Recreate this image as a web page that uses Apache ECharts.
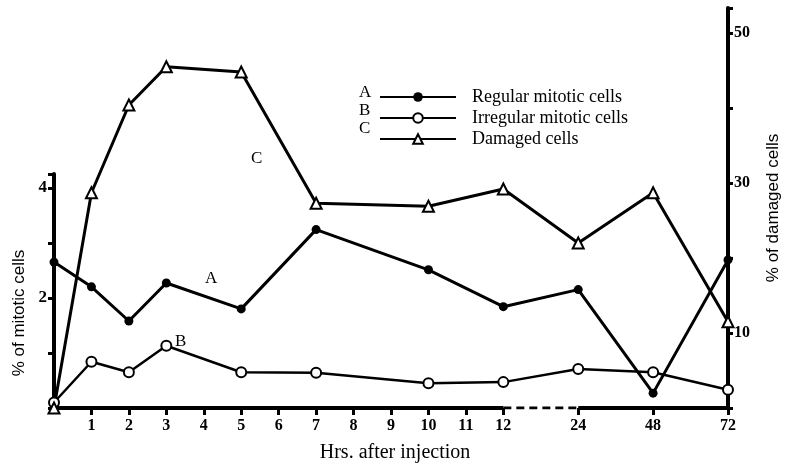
<!DOCTYPE html>
<html>
<head>
<meta charset="utf-8">
<script src="https://cdn.jsdelivr.net/npm/echarts@6/dist/echarts.min.js"></script>
<style>
  html, body { margin: 0; padding: 0; background: #fff; }
  #chart { width: 786px; height: 464px; }
</style>
</head>
<body>
<div id="chart"></div>
<script>
// hours after injection and where each sits on the broken x axis (12 -> 24 is squeezed)
const hours = [0, 1, 2, 3, 5, 7, 10, 12, 24, 48, 72];
const hourPos = [0, 1, 2, 3, 5, 7, 10, 12, 14, 16, 18];

// A: regular mitotic cells (%), B: irregular mitotic cells (%), C: damaged cells (%)
const regular = [2.65, 2.2, 1.58, 2.27, 1.8, 3.24, 2.51, 1.84, 2.15, 0.27, 2.69];
const irregular = [0.1, 0.84, 0.65, 1.13, 0.65, 0.64, 0.45, 0.47, 0.71, 0.65, 0.33];
const damaged = [0, 28.7, 40.4, 45.5, 44.8, 27.3, 26.9, 29.2, 22, 28.7, 11.5];

// x tick marks and their labels
const tickPos = [1, 2, 3, 4, 5, 6, 7, 8, 9, 10, 11, 12, 14, 16, 18];
const tickLabels = ['1', '2', '3', '4', '5', '6', '7', '8', '9', '10', '11', '12', '24', '48', '72'];

// baseline pieces: solid, dashed across the break, solid
const baseSolid1 = [0, 12];
const baseDash = [12, 14];
const baseSolid2 = [14, 18];

const serif = '"Liberation Serif", "DejaVu Serif", serif';
const sans = '"Liberation Sans", "DejaVu Sans", sans-serif';
const pair = (xs, ys) => xs.map((x, i) => [x, ys[i]]);

const chart = echarts.init(document.getElementById('chart'));

const xCommon = { type: 'value', min: 0, max: 18, splitLine: { show: false } };

chart.setOption({
  animation: false,
  backgroundColor: '#fff',
  grid: [
    { left: 54, right: 58, top: 174, bottom: 56, outerBoundsMode: 'none', containLabel: false },
    { left: 54, right: 58, top: 8, bottom: 56, outerBoundsMode: 'none', containLabel: false }
  ],
  xAxis: [
    Object.assign({}, xCommon, {
      gridIndex: 0,
      axisLine: { show: false },
      axisTick: { show: true, customValues: tickPos, length: 7, lineStyle: { color: '#000', width: 3 } },
      axisLabel: {
        customValues: tickPos,
        formatter: v => tickLabels[tickPos.indexOf(v)] || '',
        color: '#000', fontFamily: serif, fontWeight: 'bold', fontSize: 16, margin: 10
      },
      name: 'Hrs. after injection',
      nameLocation: 'middle',
      nameGap: 35,
      nameTextStyle: { color: '#000', fontFamily: serif, fontSize: 20, padding: [0, 0, 0, 8] }
    }),
    Object.assign({}, xCommon, {
      gridIndex: 1,
      show: false
    })
  ],
  yAxis: [
    {
      type: 'value', gridIndex: 0, min: 0, max: 4.25, interval: 1,
      splitLine: { show: false },
      axisLine: { show: true, lineStyle: { color: '#000', width: 4 } },
      axisTick: { show: true, length: 6, lineStyle: { color: '#000', width: 3 } },
      axisLabel: {
        formatter: v => (v === 2 || v === 4) ? String(v) : '',
        color: '#000', fontFamily: serif, fontWeight: 'bold', fontSize: 17, margin: 7
      },
      name: '% of mitotic cells',
      nameLocation: 'middle',
      nameRotate: 90,
      nameGap: 26,
      nameTextStyle: { color: '#000', fontFamily: sans, fontSize: 17, padding: [0, 44, 0, 0] }
    },
    {
      type: 'value', gridIndex: 1, position: 'right', min: 0, max: 53.33, interval: 10,
      splitLine: { show: false },
      axisLine: { show: true, onZero: false, lineStyle: { color: '#000', width: 4 } },
      axisTick: { show: true, length: 5, lineStyle: { color: '#000', width: 3 } },
      axisLabel: {
        formatter: v => (v === 10 || v === 30 || v === 50) ? String(v) : '',
        color: '#000', fontFamily: serif, fontWeight: 'bold', fontSize: 16, margin: 6
      },
      name: '% of damaged cells',
      nameLocation: 'middle',
      nameRotate: 90,
      nameGap: 37,
      nameTextStyle: { color: '#000', fontFamily: sans, fontSize: 17 }
    }
  ],
  legend: {
    data: ['Regular mitotic cells', 'Irregular mitotic cells', 'Damaged cells'],
    orient: 'vertical',
    left: 374,
    top: 83,
    itemWidth: 76,
    itemHeight: 12,
    itemGap: 3,
    selectedMode: false,
    textStyle: { color: '#000', fontFamily: serif, fontSize: 18, lineHeight: 16, padding: [0, 0, 0, 11] }
  },
  graphic: [
    { type: 'text', left: 359, top: 84, style: { text: 'A', font: '17px ' + serif, fill: '#000' } },
    { type: 'text', left: 359, top: 102, style: { text: 'B', font: '17px ' + serif, fill: '#000' } },
    { type: 'text', left: 359, top: 120, style: { text: 'C', font: '17px ' + serif, fill: '#000' } },
    { type: 'text', left: 205, top: 270, style: { text: 'A', font: '17px ' + serif, fill: '#000' } },
    { type: 'text', left: 175, top: 333, style: { text: 'B', font: '17px ' + serif, fill: '#000' } },
    { type: 'text', left: 251, top: 150, style: { text: 'C', font: '17px ' + serif, fill: '#000' } }
  ],
  series: [
    {
      name: 'Regular mitotic cells', type: 'line', xAxisIndex: 0, yAxisIndex: 0,
      data: pair(hourPos, regular),
      symbol: 'circle', symbolSize: 9,
      itemStyle: { color: '#000' },
      lineStyle: { color: '#000', width: 3 },
      z: 5
    },
    {
      name: 'Irregular mitotic cells', type: 'line', xAxisIndex: 0, yAxisIndex: 0,
      data: pair(hourPos, irregular),
      symbol: 'emptyCircle', symbolSize: 10,
      itemStyle: { color: '#000', borderWidth: 2 },
      lineStyle: { color: '#000', width: 2.5 },
      z: 5
    },
    {
      name: 'Damaged cells', type: 'line', xAxisIndex: 1, yAxisIndex: 1,
      data: pair(hourPos, damaged),
      symbol: 'emptyTriangle', symbolSize: 11,
      itemStyle: { color: '#000', borderWidth: 2 },
      lineStyle: { color: '#000', width: 3 },
      z: 5
    },
    {
      name: 'base1', type: 'line', xAxisIndex: 0, yAxisIndex: 0, silent: true,
      data: baseSolid1.map(x => [x, 0]), symbol: 'none',
      lineStyle: { color: '#000', width: 4 }, z: 3
    },
    {
      name: 'base2', type: 'line', xAxisIndex: 0, yAxisIndex: 0, silent: true,
      data: baseDash.map(x => [x, 0]), symbol: 'none',
      lineStyle: { color: '#000', width: 3, type: [8, 5] }, z: 3
    },
    {
      name: 'base3', type: 'line', xAxisIndex: 0, yAxisIndex: 0, silent: true,
      data: baseSolid2.map(x => [x, 0]), symbol: 'none',
      lineStyle: { color: '#000', width: 4 }, z: 3
    }
  ]
});
</script>
</body>
</html>
